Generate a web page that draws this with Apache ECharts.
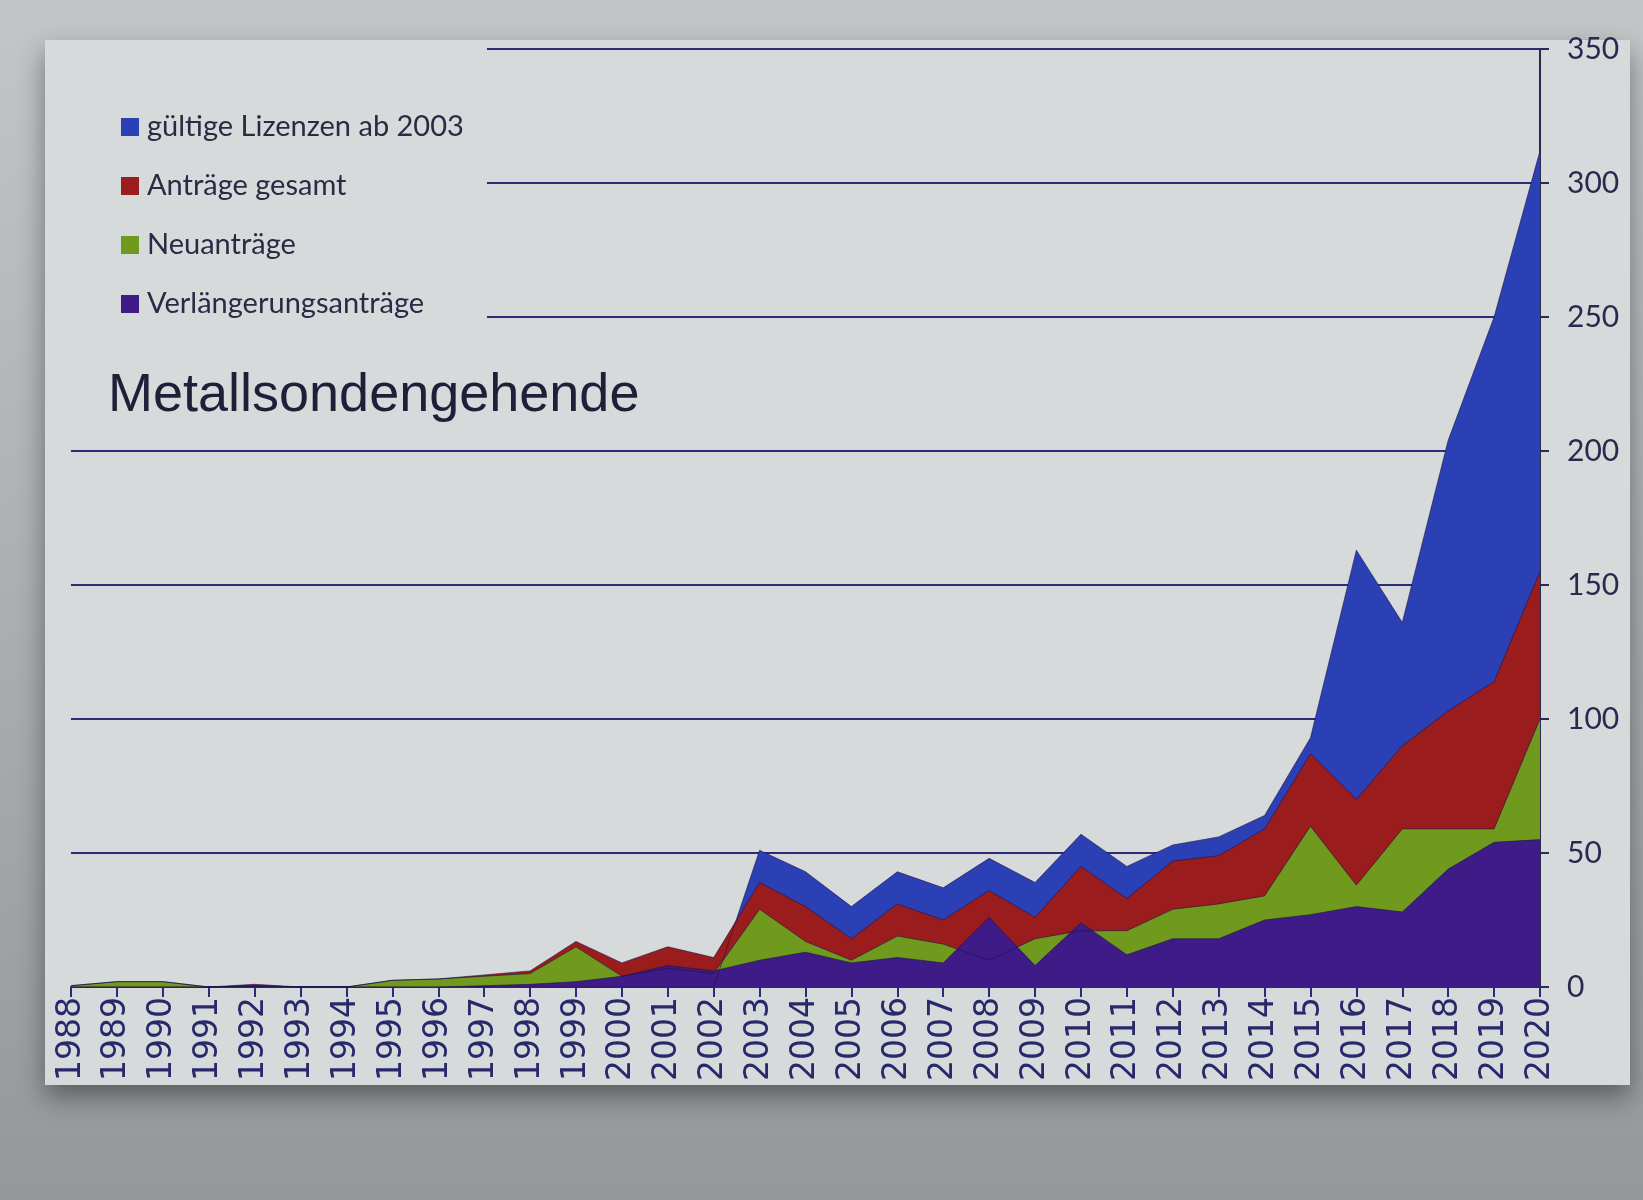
<!DOCTYPE html>
<html>
<head>
<meta charset="utf-8">
<script src="https://cdn.jsdelivr.net/npm/echarts@6/dist/echarts.min.js"></script>
<style>
  html, body { margin: 0; padding: 0; }
  #main { width: 1643px; height: 1200px; }
</style>
</head>
<body>
<div id="main"></div>
<script>
// years on the x axis
const years = [
  "1988", "1989", "1990", "1991", "1992", "1993", "1994", "1995", "1996", "1997", "1998",
  "1999", "2000", "2001", "2002", "2003", "2004", "2005", "2006", "2007", "2008", "2009",
  "2010", "2011", "2012", "2013", "2014", "2015", "2016", "2017", "2018", "2019", "2020"
];

// values (areas overlap, not stacked)
const lizenzen = [
  0, 0, 0, 0, 0, 0, 0, 0, 0, 0, 0,
  0, 0, 0, 0, 51, 43, 30, 43, 37, 48, 39,
  57, 45, 53, 56, 64, 93, 163, 136, 204, 250, 312
];
const antraegeGesamt = [
  0.5, 2, 2, 0, 1, 0, 0, 2.5, 3, 4.5, 6,
  17, 9, 15, 11, 39, 30, 18, 31, 25, 36, 26,
  45, 33, 47, 49, 59, 87, 70, 90, 103, 114, 155
];
const neuantraege = [
  0.5, 2, 2, 0, 0.5, 0, 0, 2.5, 3, 4, 5,
  15, 4, 7, 5, 29, 17, 10, 19, 16, 10, 18,
  21, 21, 29, 31, 34, 60, 38, 59, 59, 59, 100
];
const verlaengerung = [
  0, 0, 0, 0, 0.5, 0, 0, 0, 0, 0.5, 1,
  2, 4, 8, 6, 10, 13, 9, 11, 9, 26, 8,
  24, 12, 18, 18, 25, 27, 30, 28, 44, 54, 55
];

const slideColor = "#d6dadb";
const navy = "#2d2a78";

function areaSeries(name, data, color) {
  return {
    name: name,
    type: "line",
    data: data,
    showSymbol: false,
    lineStyle: { width: 1, color: "rgba(30,20,70,0.6)" },
    itemStyle: { color: color },
    areaStyle: { color: color, opacity: 1 },
    emphasis: { disabled: true }
  };
}

const options = {
  animation: false,
  backgroundColor: {
    type: "linear", x: 0, y: 0, x2: 0, y2: 1,
    colorStops: [
      { offset: 0, color: "#c2c6c7" },
      { offset: 1, color: "#94989a" }
    ]
  },
  graphic: [
    {
      type: "rect",
      z: -1,
      shape: { x: 45, y: 40, width: 1585, height: 1045 },
      style: {
        fill: slideColor,
        shadowBlur: 25,
        shadowOffsetY: 12,
        shadowColor: "rgba(0,0,0,0.4)"
      }
    },
    {
      // white box behind legend hides the upper grid lines
      type: "rect",
      z: 3,
      shape: { x: 55, y: 42, width: 432, height: 300 },
      style: { fill: slideColor }
    }
  ],
  title: {
    text: "Metallsondengehende",
    left: 108,
    top: 369,
    padding: 0,
    textStyle: {
      fontFamily: "Liberation Sans",
      fontSize: 54,
      fontWeight: "normal",
      color: "#1f1f38"
    }
  },
  legend: {
    orient: "vertical",
    left: 116,
    top: 106,
    itemWidth: 18,
    itemHeight: 18,
    itemGap: 27,
    icon: "rect",
    z: 5,
    data: ["gültige Lizenzen ab 2003", "Anträge gesamt", "Neuanträge", "Verlängerungsanträge"],
    textStyle: {
      fontFamily: "Lato",
      fontSize: 29,
      lineHeight: 32,
      color: "#2a2a45",
      padding: [0, 0, 0, 3]
    }
  },
  grid: { left: 71, right: 103, top: 49, bottom: 213 },
  xAxis: {
    type: "category",
    data: years,
    boundaryGap: false,
    axisLine: { lineStyle: { color: navy, width: 2 } },
    axisTick: { show: true, length: 10, lineStyle: { color: navy, width: 2 } },
    axisLabel: {
      interval: 0,
      rotate: 90,
      margin: 10,
      fontFamily: "DejaVu Sans",
      fontSize: 33,
      color: "#28286a"
    },
    splitLine: { show: false }
  },
  yAxis: {
    type: "value",
    position: "right",
    min: 0,
    max: 350,
    interval: 50,
    axisLine: { show: true, lineStyle: { color: "#2a2a50", width: 2 } },
    axisTick: { show: true, length: 9, lineStyle: { color: "#2a2a50", width: 2 } },
    axisLabel: {
      margin: 27,
      fontFamily: "Lato",
      fontSize: 30,
      color: "#2a2a50"
    },
    splitLine: { lineStyle: { color: navy, width: 2 } }
  },
  series: [
    areaSeries("gültige Lizenzen ab 2003", lizenzen, "#2b40b4"),
    areaSeries("Anträge gesamt", antraegeGesamt, "#9a1c1c"),
    areaSeries("Neuanträge", neuantraege, "#6f9a1e"),
    areaSeries("Verlängerungsanträge", verlaengerung, "#3e1b86")
  ]
};

let myChart = echarts.init(document.getElementById("main"));
myChart.setOption(options);
</script>
</body>
</html>
